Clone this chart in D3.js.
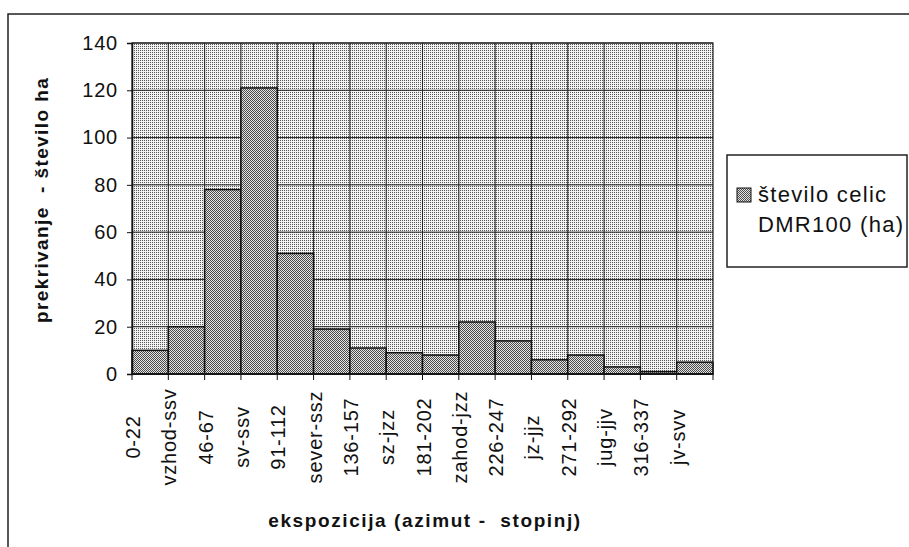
<!DOCTYPE html>
<html>
<head>
<meta charset="utf-8">
<script src="https://cdn.jsdelivr.net/npm/d3@7.9.0/dist/d3.min.js"></script>
<style>
  body { margin: 0; background: #fff; }
  text { font-family: Arial, "Liberation Sans", sans-serif; fill: #111; }
</style>
</head>
<body>
<svg id="chart" width="909" height="547"></svg>
<script>
// data
const categories = ['0-22', 'vzhod-ssv', '46-67', 'sv-ssv', '91-112', 'sever-ssz', '136-157', 'sz-jzz',
  '181-202', 'zahod-jzz', '226-247', 'jz-jjz', '271-292', 'jug-jjv', '316-337', 'jv-svv'];
const values = [10, 20, 78, 121, 51, 19, 11, 9, 8, 22, 14, 6, 8, 3, 1, 5];
const yTicks = [0, 20, 40, 60, 80, 100, 120, 140];
const seriesName = ['število celic', 'DMR100 (ha)'];

const svg = d3.select('#chart');

// patterns imitating the printed halftone
const defs = svg.append('defs');
let bgPat = defs.append('pattern').attr('id', 'bgDots')
  .attr('width', 2).attr('height', 2).attr('patternUnits', 'userSpaceOnUse');
bgPat.append('rect').attr('width', 2).attr('height', 2).attr('fill', '#f2f2f2');
bgPat.append('rect').attr('width', 1).attr('height', 1).attr('fill', '#555');

let barPat = defs.append('pattern').attr('id', 'barDots')
  .attr('width', 2).attr('height', 2).attr('patternUnits', 'userSpaceOnUse');
barPat.append('rect').attr('width', 2).attr('height', 2).attr('fill', '#e4e4e4');
barPat.append('rect').attr('width', 1).attr('height', 1).attr('fill', '#4a4a4a');
barPat.append('rect').attr('x', 1).attr('y', 1).attr('width', 1).attr('height', 1).attr('fill', '#4a4a4a');

// outer chart border (runs off the right and bottom)
svg.append('rect')
  .attr('x', 8).attr('y', 14).attr('width', 1000).attr('height', 1000)
  .attr('fill', 'none').attr('stroke', '#222').attr('stroke-width', 1.5);

const plotLeft = 132, plotRight = 713, plotTop = 43, plotBottom = 374;

let x = d3.scaleBand().domain(categories).range([plotLeft, plotRight]).padding(0);
let y = d3.scaleLinear().domain([0, 140]).range([plotBottom, plotTop]);

// plot area
svg.append('rect')
  .attr('x', plotLeft).attr('y', plotTop).attr('width', plotRight - plotLeft).attr('height', plotBottom - plotTop)
  .attr('fill', 'url(#bgDots)');

// gridlines
svg.append('g').selectAll('line').data(yTicks).join('line')
  .attr('x1', plotLeft).attr('x2', plotRight)
  .attr('y1', d => y(d)).attr('y2', d => y(d))
  .attr('stroke', '#222').attr('stroke-width', 1);

svg.append('g').selectAll('line').data(categories.slice(1)).join('line')
  .attr('x1', d => x(d)).attr('x2', d => x(d))
  .attr('y1', plotTop).attr('y2', plotBottom)
  .attr('stroke', '#222').attr('stroke-width', 1);

// bars
svg.append('g').selectAll('rect').data(values).join('rect')
  .attr('x', (d, i) => x(categories[i]))
  .attr('y', d => y(d))
  .attr('width', x.bandwidth())
  .attr('height', d => plotBottom - y(d))
  .attr('fill', 'url(#barDots)')
  .attr('stroke', '#111').attr('stroke-width', 1.5);

// plot border
svg.append('rect')
  .attr('x', plotLeft).attr('y', plotTop).attr('width', plotRight - plotLeft).attr('height', plotBottom - plotTop)
  .attr('fill', 'none').attr('stroke', '#222').attr('stroke-width', 1.2);

// y axis
let yAxis = svg.append('g')
  .attr('transform', `translate(${plotLeft},0)`)
  .call(d3.axisLeft(y).tickValues(yTicks).tickSize(5).tickPadding(9));
yAxis.select('.domain').attr('stroke', '#111').attr('stroke-width', 1.5);
yAxis.selectAll('.tick line').attr('stroke', '#111');
yAxis.selectAll('.tick text')
  .attr('font-size', 20).attr('letter-spacing', 0.8)
  .style('font-family', 'Arial, "Liberation Sans", sans-serif').attr('fill', '#111');

// x axis: baseline, ticks at category boundaries, labels at left edge of each band
svg.append('line')
  .attr('x1', plotLeft).attr('x2', plotRight).attr('y1', plotBottom).attr('y2', plotBottom)
  .attr('stroke', '#111').attr('stroke-width', 1.5);

let boundaries = categories.map(c => x(c)).concat([x.range()[1]]);
svg.append('g').selectAll('line').data(boundaries).join('line')
  .attr('x1', d => d).attr('x2', d => d)
  .attr('y1', plotBottom).attr('y2', plotBottom + 6)
  .attr('stroke', '#111');

svg.append('g').selectAll('text').data(categories).join('text')
  .attr('transform', d => `translate(${x(d) + 1},437) rotate(-90)`)
  .attr('text-anchor', 'middle')
  .attr('dy', '0.35em')
  .attr('font-size', 20).attr('letter-spacing', 0.8)
  .text(d => d);

// axis titles
svg.append('text')
  .attr('x', 425).attr('y', 527)
  .attr('text-anchor', 'middle')
  .attr('font-size', 19).attr('font-weight', 'bold').attr('letter-spacing', 1.6)
  .style('white-space', 'pre')
  .text('ekspozicija (azimut -  stopinj)');

svg.append('text')
  .attr('transform', 'translate(48,200) rotate(-90)')
  .attr('text-anchor', 'middle')
  .attr('font-size', 19).attr('font-weight', 'bold').attr('letter-spacing', 1.4)
  .style('white-space', 'pre')
  .text('prekrivanje  - število ha');

// legend
let legend = svg.append('g');
legend.append('rect')
  .attr('x', 727).attr('y', 155).attr('width', 180).attr('height', 112)
  .attr('fill', '#fff').attr('stroke', '#222').attr('stroke-width', 1.5);
legend.append('rect')
  .attr('x', 737).attr('y', 188).attr('width', 14).attr('height', 14)
  .attr('fill', 'url(#barDots)').attr('stroke', '#111').attr('stroke-width', 1);
legend.selectAll('text.leg').data(seriesName).join('text')
  .attr('class', 'leg')
  .attr('x', 758).attr('y', (d, i) => 202 + i * 30)
  .attr('font-size', 22).attr('letter-spacing', 1.3)
  .text(d => d);
</script>
</body>
</html>
